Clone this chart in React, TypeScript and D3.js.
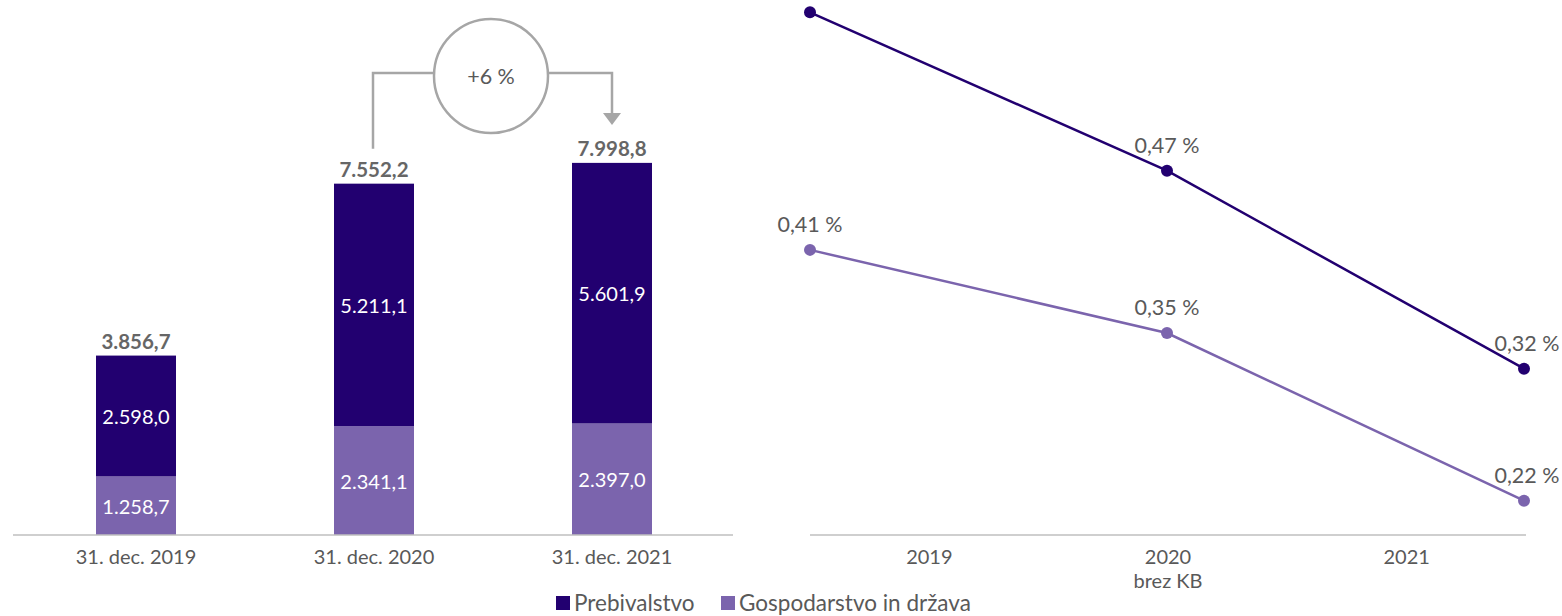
import React from "react";
import * as d3 from "d3";

const barCategories = ["31. dec. 2019", "31. dec. 2020", "31. dec. 2021"];
const householdValues = [2598.0, 5211.1, 5601.9];
const businessValues = [1258.7, 2341.1, 2397.0];
const totalValues = [3856.7, 7552.2, 7998.8];
const growthLabel = "+6 %";

const lineCategories = ["2019", "2020", "2021"];
const lineSubLabels = ["", "brez KB", ""];
const householdRate = [0.59, 0.47, 0.32];
const businessRate = [0.41, 0.347, 0.22];
// the first household point's label lies outside the visible area in the reference
const householdLabelShown = [false, true, true];
const businessLabelShown = [true, true, true];

const legendItems = ["Prebivalstvo", "Gospodarstvo in država"];

const DARK = "#220070";
const LIGHT = "#7b64ad";
const GRAY_TEXT = "#595959";
const AXIS = "#bfbfbf";
const FONT = "Lato, 'Open Sans', sans-serif";

const fmtNum = (v: number) => {
  const s = v.toFixed(1);
  const [i, f] = s.split(".");
  const ii = i.replace(/\B(?=(\d{3})+(?!\d))/g, ".");
  return `${ii},${f}`;
};
const fmtPct = (v: number) => `${v.toFixed(2).replace(".", ",")} %`;

export default function App() {
  const W = 1562;
  const H = 616;
  const baseY = 535;

  // Left bar chart
  const xBar = d3.scaleBand().domain(barCategories).range([17, 731]).paddingInner(0).paddingOuter(0);
  const yBar = d3.scaleLinear().domain([0, 11500]).range([baseY, 0]);
  const barW = 80;

  // Right line chart
  const xLine = d3.scalePoint().domain(lineCategories).range([810, 1524]);
  const xLineBand = d3.scaleBand().domain(lineCategories).range([810, 1526]);
  const yLine = d3.scaleLinear().domain([0.194, 0.6]).range([baseY, baseY - 0.406 * 1320]);

  const line = d3
    .line<number>()
    .x((_, i) => xLine(lineCategories[i]) as number)
    .y((d) => yLine(d));

  const cx = (i: number) => (xBar(barCategories[i]) as number) + xBar.bandwidth() / 2;

  // annotation geometry derived from bars 2 and 3
  const a1 = cx(1) - 1;
  const a2 = cx(2);
  const topY = 73;
  const circX = (a1 + a2) / 2 - 1.5;
  const circY = 76;
  const r = 57;

  return (
    <svg
      width={W}
      height={H}
      style={{ position: "absolute", left: 0, top: 0, background: "#fff" }}
      fontFamily={FONT}
    >
      {/* Bars */}
      {barCategories.map((c, i) => {
        const x = cx(i) - barW / 2;
        const b = businessValues[i];
        const h = householdValues[i];
        const yB = yBar(b);
        const yH = yBar(b + h);
        return (
          <g key={c}>
            <rect x={x} y={yB} width={barW} height={baseY - yB} fill={LIGHT} />
            <rect x={x} y={yH} width={barW} height={yB - yH} fill={DARK} />
            <text x={cx(i)} y={(yB + baseY) / 2} textAnchor="middle" dominantBaseline="central" fill="#fff" fontSize={20}>
              {fmtNum(b)}
            </text>
            <text x={cx(i)} y={(yH + yB) / 2} textAnchor="middle" dominantBaseline="central" fill="#fff" fontSize={20}>
              {fmtNum(h)}
            </text>
            <text
              x={cx(i)}
              y={yBar(totalValues[i]) - 15}
              textAnchor="middle"
              dominantBaseline="central"
              fill="#666"
              fontSize={20.5}
              fontWeight="bold"
            >
              {fmtNum(totalValues[i])}
            </text>
            <text x={cx(i)} y={556} textAnchor="middle" dominantBaseline="central" fill={GRAY_TEXT} fontSize={20}>
              {c}
            </text>
          </g>
        );
      })}
      <line x1={13} x2={733} y1={baseY} y2={baseY} stroke={AXIS} strokeWidth={1.5} />

      {/* Growth annotation */}
      <g stroke="#a6a6a6" strokeWidth={2.5} fill="none">
        <polyline points={`${a1},${yBar(totalValues[1]) - 35} ${a1},${topY} ${circX - r},${topY}`} />
        <polyline points={`${circX + r},${topY} ${a2},${topY} ${a2},${114}`} />
        <circle cx={circX} cy={circY} r={r} />
      </g>
      <path d={`M${a2 - 9},${113} L${a2 + 9},${113} L${a2},${125} Z`} fill="#a6a6a6" />
      <text x={circX} y={circY} textAnchor="middle" dominantBaseline="central" fill={GRAY_TEXT} fontSize={21.5}>
        {growthLabel}
      </text>

      {/* Line chart */}
      <line x1={810} x2={1526} y1={baseY} y2={baseY} stroke={AXIS} strokeWidth={1.5} />
      {lineCategories.map((c, i) => {
        const x = (xLineBand(c) as number) + xLineBand.bandwidth() / 2;
        return (
          <g key={c}>
            <text x={x} y={556} textAnchor="middle" dominantBaseline="central" fill={GRAY_TEXT} fontSize={20}>
              {c}
            </text>
            {lineSubLabels[i] && (
              <text x={x} y={580} textAnchor="middle" dominantBaseline="central" fill={GRAY_TEXT} fontSize={20}>
                {lineSubLabels[i]}
              </text>
            )}
          </g>
        );
      })}
      {[
        { data: householdRate, color: DARK, shown: householdLabelShown },
        { data: businessRate, color: LIGHT, shown: businessLabelShown },
      ].map((s, si) => (
        <g key={si}>
          <path d={line(s.data) || ""} fill="none" stroke={s.color} strokeWidth={2.5} />
          {s.data.map((v, i) => {
            const x = xLine(lineCategories[i]) as number;
            const y = yLine(v);
            return (
              <g key={i}>
                <circle cx={x} cy={y} r={6} fill={s.color} />
                {s.shown[i] && (
                  <text
                    x={x + (i === 2 ? 3 : 0)}
                    y={y - 26}
                    textAnchor="middle"
                    dominantBaseline="central"
                    fill={GRAY_TEXT}
                    fontSize={21.5}
                  >
                    {fmtPct(v)}
                  </text>
                )}
              </g>
            );
          })}
        </g>
      ))}

      {/* Legend */}
      <g>
        <rect x={556} y={596} width={14} height={14} fill={DARK} />
        <text x={574} y={602} dominantBaseline="central" fill={GRAY_TEXT} fontSize={22.5}>
          {legendItems[0]}
        </text>
        <rect x={721} y={596} width={14} height={14} fill={LIGHT} />
        <text x={739} y={602} dominantBaseline="central" fill={GRAY_TEXT} fontSize={22.5}>
          {legendItems[1]}
        </text>
      </g>
    </svg>
  );
}
